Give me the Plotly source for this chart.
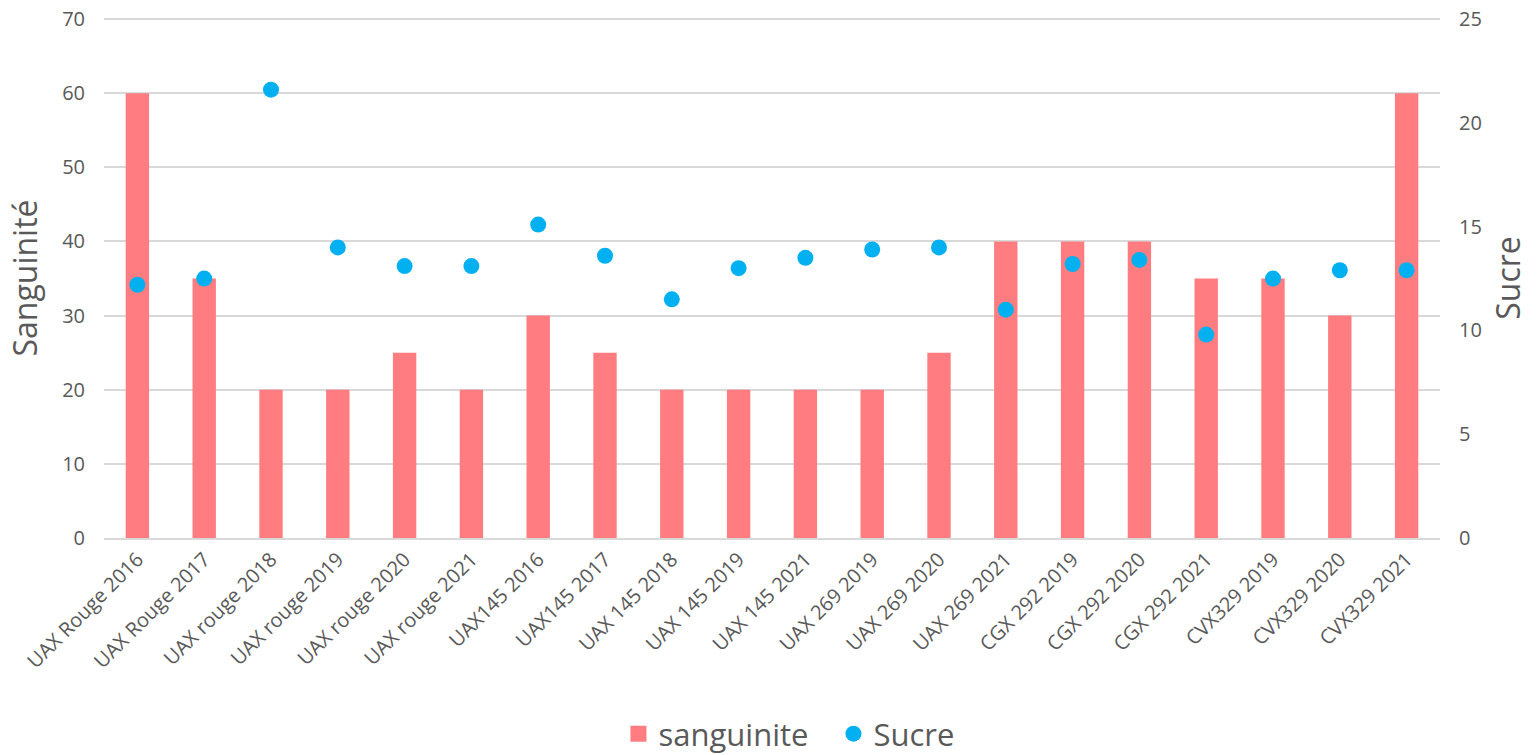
import plotly.graph_objects as go

categories = ["UAX Rouge 2016", "UAX Rouge 2017", "UAX rouge 2018", "UAX rouge 2019",
              "UAX rouge 2020", "UAX rouge 2021", "UAX145 2016", "UAX145 2017",
              "UAX 145 2018", "UAX 145 2019", "UAX 145 2021", "UAX 269 2019",
              "UAX 269 2020", "UAX 269 2021", "CGX 292 2019", "CGX 292 2020",
              "CGX 292 2021", "CVX329 2019", "CVX329 2020", "CVX329 2021"]
sanguinite = [60, 35, 20, 20, 25, 20, 30, 25, 20, 20, 20, 20, 25, 40, 40, 40, 35, 35, 30, 60]
sucre = [12.2, 12.5, 21.6, 14.0, 13.1, 13.1, 15.1, 13.6, 11.5, 13.0, 13.5, 13.9,
         14.0, 11.0, 13.2, 13.4, 9.8, 12.5, 12.9, 12.9]
left_ticks = [0, 10, 20, 30, 40, 50, 60, 70]
right_ticks = [0, 5, 10, 15, 20, 25]

FONT = "Open Sans"
GREY = "#595959"
RED = "#FF7C80"
BLUE = "#00B0F0"

LEFT_MAX = 70.15
RIGHT_MAX = 25 * LEFT_MAX / 70

fig = go.Figure()
fig.add_trace(go.Bar(x=categories, y=sanguinite, name="sanguinite", showlegend=False,
                     marker=dict(color=RED, line=dict(width=0)), width=0.35))
# legend entry with a larger square swatch
fig.add_trace(go.Scatter(x=[categories[0]], y=[None], name="sanguinite", mode="markers",
                         marker=dict(color=RED, size=22, symbol="square")))
fig.add_trace(go.Scatter(x=categories, y=sucre, name="Sucre", mode="markers",
                         marker=dict(color=BLUE, size=16), yaxis="y2"))

fig.update_layout(
    width=1537, height=755,
    margin=dict(l=104, r=97, t=18, b=217, autoexpand=False),
    plot_bgcolor="white", paper_bgcolor="white",
    font=dict(family=FONT, color=GREY, size=20),
    xaxis=dict(tickangle=-45, tickfont=dict(size=20, color=GREY), showgrid=False,
               range=[-0.5, len(categories) - 0.5],
               showline=True, linecolor="#D9D9D9", linewidth=1.5, ticks="", automargin=False),
    yaxis=dict(range=[0, LEFT_MAX], tickvals=left_ticks, showgrid=True, gridcolor="#D9D9D9",
               gridwidth=1.5, zeroline=False, automargin=False, ticklabelstandoff=18,
               ticklabeloverflow="allow",
               title=dict(text="Sanguinité", font=dict(size=32, color=GREY), standoff=14),
               tickfont=dict(size=20, color=GREY)),
    yaxis2=dict(range=[0, RIGHT_MAX], tickvals=right_ticks, overlaying="y", side="right",
                showgrid=False, zeroline=False, automargin=False, ticklabelstandoff=18,
                ticklabeloverflow="allow",
                title=dict(text="Sucre", font=dict(size=32, color=GREY), standoff=16),
                tickfont=dict(size=20, color=GREY)),
    legend=dict(orientation="h", x=0.546, xanchor="center", y=-0.377, yanchor="middle",
                font=dict(size=31, color=GREY), itemsizing="trace",
                entrywidth=170, entrywidthmode="pixels"),
    bargap=0.65,
)
fig.write_html("out.html", config={"displayModeBar": False},
               post_script="document.body.style.margin='0px';")
